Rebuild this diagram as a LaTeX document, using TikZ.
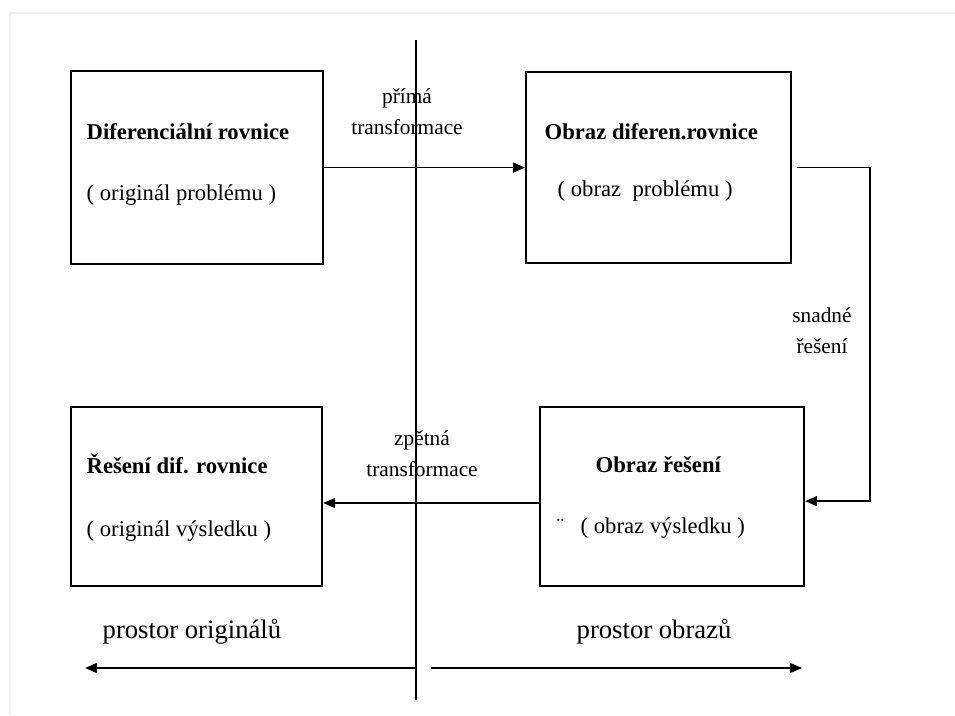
\documentclass[tikz,border=0pt]{standalone}
\usepackage{fontspec}
\setmainfont{Liberation Serif}
\usetikzlibrary{positioning, arrows.meta}

\begin{document}
\begin{tikzpicture}[x=0.75pt,y=-0.75pt,line width=1pt,
  blok/.style={draw, line width=1.6pt, anchor=north west, inner sep=0pt},
  nadpis/.style={anchor=base west, font=\fontsize{17}{20}\selectfont\bfseries, inner sep=0pt},
  podnadpis/.style={anchor=base west, font=\fontsize{17}{20}\selectfont, inner sep=0pt},
  popis/.style={anchor=base, align=center, font=\fontsize{16}{23}\selectfont, inner sep=0pt},
  prostor/.style={anchor=base west, font=\fontsize{20}{24}\selectfont, inner sep=0pt},
  sipka/.style={-{Triangle[length=9pt,width=7.5pt]}, line width=1.1pt}]
\useasboundingbox (0,0) rectangle (955,715);
% Frame
\draw[gray!12, line width=1.5pt] (10,715) -- (10,13) -- (955,13);
% Boxes
\node[blok, minimum width=189pt, minimum height=144.75pt] (dr) at (70,70) {};
\node[blok, minimum width=198.75pt, minimum height=143.25pt] (ob) at (525,71) {};
\node[blok, minimum width=188.25pt, minimum height=134.25pt] (res) at (70,406) {};
\node[blok, minimum width=198pt, minimum height=134.25pt] (ors) at (539,406) {};
% Box texts
\node[nadpis] (dr1) at (86,139) {Diferenciální rovnice};
\node[podnadpis] (dr2) at (86,200) {( originál problému )};
\node[nadpis] (ob1) at (544,139) {Obraz diferen.rovnice};
\node[podnadpis] (ob2) at (557,196) {( obraz\ \ problému )};
\node[nadpis] (res1) at (86,473) {Řešení dif. rovnice};
\node[podnadpis] (res2) at (86,536) {( originál výsledku )};
\node[nadpis] (ors1) at (595,472) {Obraz řešení};
\node[podnadpis] (ors2) at (580,533) {( obraz výsledku )};
\node[podnadpis] (tecky) at (556,533) {¨};
% Dividing line
\coordinate (hore) at (416,40);
\coordinate (dole) at (416,700);
\draw[line width=0.8pt] (hore) -- (dole);
% Labels
\node[popis] (prima) at (407,134) {přímá\\transformace};
\node[popis] (zpetna) at (422,476) {zpětná\\transformace};
\node[popis] (snadne) at (822,353) {snadné\\řešení};
\node[prostor] (po) at (102,638) {prostor originálů};
\node[prostor] (pb) at (576,638) {prostor obrazů};
% Connectors
\draw[sipka] (dr.east) -- (ob.west);
\coordinate (zp) at (0,503);
\draw[sipka] (ors.west |- zp) -- (res.east |- zp);
\coordinate (roh) at (870,300);
\draw[sipka] ([xshift=3.75pt]ob.east) -| (roh) |- ([yshift=-3.4pt]ors.east);
% Space arrows
\coordinate (vl) at (85,668);
\coordinate (zac) at (431,668);
\coordinate (vp) at (802,668);
\draw[sipka] (dole |- vl) -- (vl);
\draw[sipka] (zac) -- (vp);
\end{tikzpicture}
\end{document}
